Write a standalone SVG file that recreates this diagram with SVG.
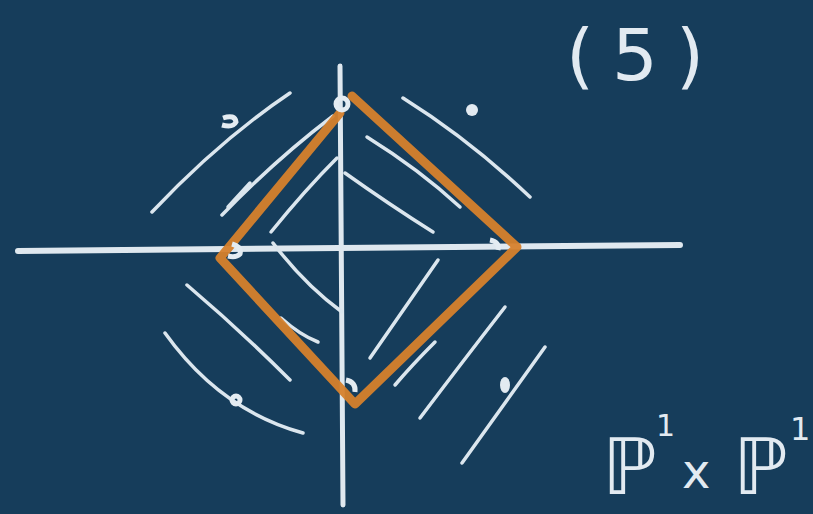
<svg xmlns="http://www.w3.org/2000/svg" width="813" height="514" viewBox="0 0 813 514">
<style>
.bg{fill:#163d5b}
.axis{stroke:#dfe8ef;fill:none;stroke-linecap:round}
.hatch{stroke:#dbe6ee;fill:none;stroke-linecap:round;stroke-width:3.5}
.dot{stroke:#e4ecf2;fill:none;stroke-width:5}
.orange{stroke:#d6812c;fill:none;stroke-linecap:round;stroke-linejoin:round;stroke-opacity:0.95}
.hand{fill:#e2eaf1;font-family:"DejaVu Sans","Liberation Sans",sans-serif}
</style>
<rect class="bg" width="813" height="514"/>
<g id="axes">
<path class="axis" d="M18 251 L680 245" stroke-width="6"/>
<path class="axis" d="M340 66 L343 505" stroke-width="5"/>
</g>
<g id="hatching">
<path class="hatch" d="M152 212 Q220 140 290 93"/>
<path class="hatch" d="M222 215 Q275 160 333 116"/>
<path class="hatch" d="M228 207 L250 183"/>
<path class="hatch" d="M271 232 Q305 190 337 158"/>
<path class="hatch" d="M403 98 Q470 140 530 197"/>
<path class="hatch" d="M367 137 Q420 170 460 207"/>
<path class="hatch" d="M345 173 Q390 205 433 232"/>
<path class="hatch" d="M273 243 Q305 285 342 312"/>
<path class="hatch" d="M187 285 Q240 330 290 380"/>
<path class="hatch" d="M281 318 Q300 335 318 342"/>
<path class="hatch" d="M165 333 Q220 410 303 433"/>
<path class="hatch" d="M438 260 Q400 315 370 358"/>
<path class="hatch" d="M435 342 Q412 365 395 385"/>
<path class="hatch" d="M505 307 Q460 365 420 418" stroke-width="5"/>
<path class="hatch" d="M545 347 Q500 410 462 463" stroke-width="5"/>
</g>
<g id="diamond">
<path class="orange" d="M340 113 L220 258 L355 404 L517 247 L352 96" stroke-width="9"/>
</g>
<g id="points">
<circle class="dot" cx="342" cy="104" r="6"/>
<path class="dot" d="M232 244 Q242 247 240 254 Q236 258 228 256"/>
<path class="dot" d="M490 240 Q500 242 498 250"/>
<path class="dot" d="M346 380 Q356 382 355 392"/>
<path class="dot" d="M223 118 Q235 114 236 122 Q233 128 222 125"/>
<circle cx="472" cy="110" r="6" fill="#e2eaf1"/>
<circle class="dot" cx="236" cy="400" r="4"/>
<ellipse cx="505" cy="385" rx="5" ry="8" fill="#e2eaf1"/>
</g>
<g id="labels">
<text class="hand" x="566" y="80" font-size="72" letter-spacing="18">(5)</text>
<text class="hand" font-size="78"><tspan x="602" y="494">ℙ</tspan><tspan x="656" y="436" font-size="30">1</tspan><tspan x="682" y="488" font-size="48">x</tspan><tspan x="733" y="494">ℙ</tspan><tspan x="790" y="440" font-size="32">1</tspan></text>
</g>
</svg>
